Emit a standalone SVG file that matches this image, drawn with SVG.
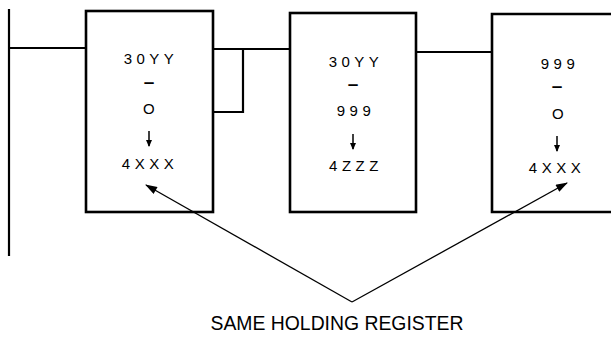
<svg xmlns="http://www.w3.org/2000/svg" width="611" height="342" viewBox="0 0 611 342">
<style>
.box{fill:none;stroke:#000;stroke-width:2.6}
.wire{fill:none;stroke:#000;stroke-width:2.2}
.lead{fill:none;stroke:#000;stroke-width:1.3}
.t{font-family:"Liberation Sans",Arial,sans-serif;font-size:15px;letter-spacing:4.5px;text-anchor:middle;fill:#000}
.d{font-family:"Liberation Sans",Arial,sans-serif;font-size:19px;font-weight:bold;text-anchor:middle;fill:#000}
.cap{font-family:"Liberation Sans",Arial,sans-serif;font-size:20px;text-anchor:middle;fill:#000}
.dn{stroke:#000;stroke-width:1.5;fill:none}
</style>
<defs>
<marker id="ah" viewBox="0 0 12 8" refX="11" refY="4" markerWidth="13" markerHeight="8" markerUnits="userSpaceOnUse" orient="auto">
<path d="M0,0 L12,4 L0,8 Z" fill="#000"/>
</marker>
<marker id="sh" viewBox="0 0 7 6" refX="6" refY="3" markerWidth="7" markerHeight="6" markerUnits="userSpaceOnUse" orient="auto">
<path d="M0,0 L7,3 L0,6 Z" fill="#000"/>
</marker>
</defs>
<g id="connectors">
<line class="wire" x1="9" y1="9" x2="9" y2="256"/>
<line class="wire" x1="9" y1="48" x2="86" y2="48"/>
<line class="wire" x1="213" y1="49" x2="290" y2="49"/>
<polyline class="wire" points="243,49 243,112 213,112"/>
<line class="wire" x1="416" y1="52" x2="492" y2="52"/>
<line class="lead" x1="352" y1="302" x2="146" y2="185" marker-end="url(#ah)"/>
<line class="lead" x1="352" y1="302" x2="567" y2="183" marker-end="url(#ah)"/>
</g>
<g id="box1">
<rect class="box" x="86" y="11" width="127" height="201"/>
<text class="t" x="151" y="64">30YY</text>
<text class="d" x="149" y="88">–</text>
<text class="t" x="151" y="114">O</text>
<line class="dn" x1="149" y1="131" x2="149" y2="146" marker-end="url(#sh)"/>
<text class="t" x="150" y="169">4XXX</text>
</g>
<g id="box2">
<rect class="box" x="290" y="13" width="126" height="199"/>
<text class="t" x="356" y="67">30YY</text>
<text class="d" x="353" y="90">–</text>
<text class="t" x="356" y="116">999</text>
<line class="dn" x1="353" y1="134" x2="353" y2="149" marker-end="url(#sh)"/>
<text class="t" x="356" y="171">4ZZZ</text>
</g>
<g id="box3">
<polyline class="box" points="613,14 492,14 492,212 613,212"/>
<text class="t" x="560" y="69">999</text>
<text class="d" x="557" y="92">–</text>
<text class="t" x="560" y="119">O</text>
<line class="dn" x1="557" y1="136" x2="557" y2="151" marker-end="url(#sh)"/>
<text class="t" x="557" y="173">4XXX</text>
</g>
<g id="caption">
<text class="cap" x="337" y="330" textLength="253" lengthAdjust="spacingAndGlyphs">SAME HOLDING REGISTER</text>
</g>
</svg>
